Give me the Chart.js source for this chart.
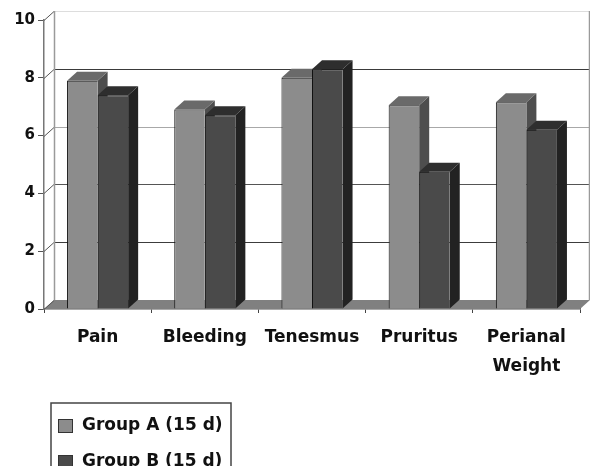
<!DOCTYPE html>
<html>
<head>
<meta charset="utf-8">
<script src="https://cdn.jsdelivr.net/npm/chart.js@4"></script>
<style>
html, body { margin: 0; padding: 0; background: #fff; }
#wrap { width: 590px; height: 466px; overflow: hidden; }
canvas { display: block; filter: blur(0.5px); }
</style>
</head>
<body>
<div id="wrap"><canvas id="chart" width="590" height="466"></canvas></div>
<script>
const categories = ['Pain', 'Bleeding', 'Tenesmus', 'Pruritus', ['Perianal', 'Weight']];
const groupA = [7.9, 6.9, 8.0, 7.05, 7.15];
const groupB = [7.4, 6.7, 8.3, 4.75, 6.2];
const seriesNames = ['Group A (15 d)', 'Group B (15 d)'];
const yTicks = [0, 2, 4, 6, 8, 10];
const gridColors = { 2: '#3c3c3c', 4: '#555555', 6: '#a8a8a8', 8: '#3a3a3a', 10: '#dddddd' };

const depthX = 10, depthY = 9;
const labelFont = "bold 17px 'DejaVu Sans', sans-serif";

function poly(ctx, pts, fill) {
    ctx.fillStyle = fill;
    ctx.beginPath();
    pts.forEach((p, i) => i ? ctx.lineTo(p[0], p[1]) : ctx.moveTo(p[0], p[1]));
    ctx.closePath();
    ctx.fill();
}

// back wall, floor and the 3d sides of the bars
const wallPlugin = {
    id: 'wall',
    beforeDatasetsDraw(chart) {
        const { ctx, scales: { x, y } } = chart;
        const left = x.left, right = x.right, base = y.getPixelForValue(0);
        ctx.save();
        poly(ctx, [[left, base], [left + depthX, base - depthY], [right + depthX, base - depthY], [right, base]], '#808080');
        ctx.lineWidth = 1;
        yTicks.forEach(v => {
            const py = Math.round(y.getPixelForValue(v)) + 0.5;
            ctx.strokeStyle = gridColors[v] || '#999999';
            if (v > 0) {
                ctx.beginPath();
                ctx.moveTo(left + depthX, py - depthY);
                ctx.lineTo(right + depthX, py - depthY);
                ctx.stroke();
            }
            ctx.strokeStyle = '#555555';
            ctx.beginPath();
            ctx.moveTo(left, py);
            ctx.lineTo(left + depthX, py - depthY);
            ctx.stroke();
        });
        ctx.strokeStyle = '#9a9a9a';
        ctx.lineWidth = 1.5;
        ctx.beginPath();
        ctx.moveTo(left + depthX + 0.5, y.getPixelForValue(10) - depthY);
        ctx.lineTo(left + depthX + 0.5, base - depthY);
        ctx.moveTo(right + depthX - 0.5, y.getPixelForValue(10) - depthY);
        ctx.lineTo(right + depthX - 0.5, base - depthY);
        ctx.stroke();

        const faces = [['#4e4e4e', '#6a6a6a'], ['#222222', '#2e2e2e']];
        [0, 1].forEach(d => {
            chart.getDatasetMeta(d).data.forEach(bar => {
                const w = bar.width / 2, x0 = bar.x - w, x1 = bar.x + w, top = bar.y, bot = bar.base;
                poly(ctx, [[x1, top], [x1 + depthX, top - depthY], [x1 + depthX, bot - depthY], [x1, bot]], faces[d][0]);
                poly(ctx, [[x0, top], [x0 + depthX, top - depthY], [x1 + depthX, top - depthY], [x1, top]], faces[d][1]);
            });
        });
        ctx.restore();
    }
};

// boxed legend under the chart, lower left
const legendPlugin = {
    id: 'boxLegend',
    afterDraw(chart) {
        const ctx = chart.ctx;
        const bx = 51, by = 403, bw = 180, bh = 70;
        ctx.save();
        ctx.strokeStyle = '#444444';
        ctx.lineWidth = 1.5;
        ctx.strokeRect(bx, by, bw, bh);
        ctx.font = labelFont;
        ctx.textBaseline = 'middle';
        chart.data.datasets.forEach((ds, i) => {
            const cy = 426 + i * 36;
            ctx.fillStyle = ds.backgroundColor;
            ctx.strokeStyle = '#333333';
            ctx.lineWidth = 1;
            ctx.fillRect(58, cy - 7, 15, 14);
            ctx.strokeRect(58.5, cy - 6.5, 14, 13);
            ctx.fillStyle = '#111111';
            ctx.fillText(ds.label, 82, cy);
        });
        ctx.restore();
    }
};

new Chart(document.getElementById('chart').getContext('2d'), {
    type: 'bar',
    data: {
        labels: categories,
        datasets: [
            { label: seriesNames[0], data: groupA, backgroundColor: '#8c8c8c', borderColor: '#111111', borderWidth: { top: 1, left: 1 } },
            { label: seriesNames[1], data: groupB, backgroundColor: '#4a4a4a', borderColor: '#111111', borderWidth: { top: 1, left: 1 } }
        ]
    },
    plugins: [wallPlugin, legendPlugin],
    options: {
        responsive: false,
        animation: false,
        layout: { padding: { top: 20, right: 10, left: 0, bottom: 0 } },
        categoryPercentage: 0.57,
        barPercentage: 1,
        plugins: { legend: { display: false }, tooltip: { enabled: false }, title: { display: false } },
        scales: {
            x: {
                afterFit(s) { s.height = 157; },
                grid: { drawOnChartArea: false, drawTicks: true, tickLength: 4, color: '#444444' },
                border: { display: true, color: '#555555', width: 1.5 },
                ticks: { color: '#111111', font: { family: "'DejaVu Sans', sans-serif", size: 17, weight: 'bold', lineHeight: 1.7 }, padding: 10, maxRotation: 0, autoSkip: false }
            },
            y: {
                min: 0,
                max: 10,
                afterFit(s) { s.width = 44; },
                afterBuildTicks(s) { s.ticks = yTicks.map(v => ({ value: v })); },
                grid: { drawOnChartArea: false, drawTicks: true, tickLength: 6, color: '#555555' },
                border: { display: true, color: '#777777', width: 1.5 },
                ticks: { color: '#111111', font: { family: "'DejaVu Sans', sans-serif", size: 15, weight: 'bold' }, padding: 3 }
            }
        }
    }
});
</script>
</body>
</html>
